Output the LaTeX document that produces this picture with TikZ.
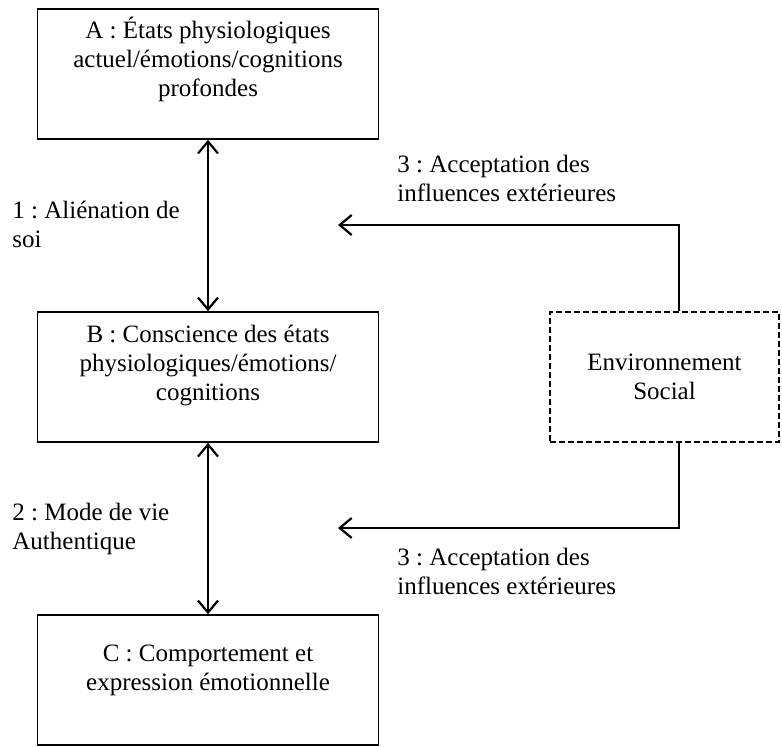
\documentclass[tikz,border=0pt]{standalone}
\usepackage{fontspec}
\setmainfont{Liberation Serif}
\usepackage{tikz}
\usetikzlibrary{arrows.meta}
\frenchspacing

\tikzset{
  boite/.style={draw, line width=0.8pt, minimum width=170.5pt, minimum height=65pt, align=center},
  social/.style={draw, line width=0.9pt, dash pattern=on 3pt off 1.5pt, minimum width=114.5pt, minimum height=65pt, align=center},
  etiq/.style={inner sep=0pt, align=left, anchor=west},
  fleche/.style={line width=1.1pt, >={Straight Barb[length=6pt,width=10pt]}}
}

\begin{document}
\begin{tikzpicture}[x=0.5pt, y=-0.5pt, every node/.style={font=\fontsize{12.5}{14.5}\selectfont}]
\useasboundingbox (0,0) rectangle (782,746);
\node[boite, text depth=17pt] (A) at (208,74) {A : États physiologiques\\actuel/émotions/cognitions\\profondes};
\node[boite, text depth=14pt] (B) at (208,377) {B : Conscience des états\\physiologiques/émotions/\\cognitions};
\node[boite, text depth=12pt] (C) at (208,680) {C : Comportement et\\expression émotionnelle};
\node[social] (E) at (664.5,377) {Environnement\\Social};
\coordinate (h1) at (338,225);
\coordinate (h2) at (338,528);
\draw[fleche, <->] (A) -- (B);
\draw[fleche, <->] (B) -- (C);
\draw[fleche, ->] ([xshift=7.25pt]E.north) |- (h1);
\draw[fleche, ->] ([xshift=7.25pt]E.south) |- (h2);
\node[etiq] (l1) at (12,224) {1 : Aliénation de\\soi};
\node[etiq] (l2) at (12,529) {2 : Mode de vie\\Authentique};
\node[etiq] (l3) at (397,178) {3 : Acceptation des\\influences extérieures};
\node[etiq] (l4) at (397,571) {3 : Acceptation des\\influences extérieures};
\end{tikzpicture}
\end{document}
